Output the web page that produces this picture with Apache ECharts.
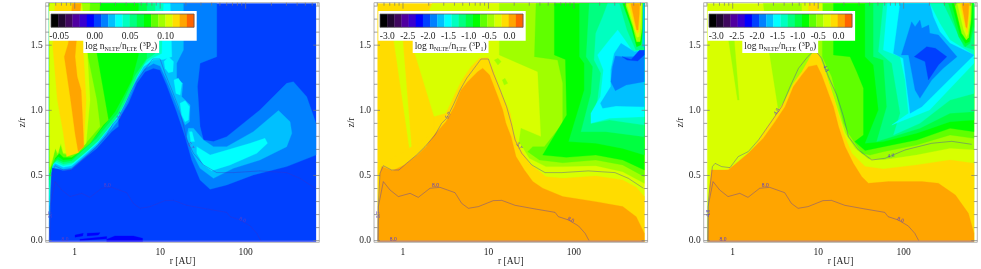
<!DOCTYPE html>
<html><head><meta charset="utf-8">
<script src="https://cdn.jsdelivr.net/npm/echarts@6/dist/echarts.min.js"></script>
<style>html,body{margin:0;padding:0;background:#fff}#c{width:981px;height:269px}</style>
</head><body><div id="c"></div>
<script>
// Colour scale levels of the shared colour bar
const levels=['#000000','#200830','#40085f','#5000a0','#3800d0','#0000ff','#0040ff','#0080ff','#00c0ff','#00ffff','#00ffc0','#00ff80','#00ff40','#00ff00','#60ff00','#a0ff00','#d8ff00','#ffdc00','#ffa500','#ff6400'];
const zb=-0.008, zt=1.82, r0=0.505, r1=665;
const fullRect=[[r0,zb],[r1,zb],[r1,zt],[r0,zt]];

// ---- Panel 1: 3P2 contour bands, [r, z/r]
const p1L7=[[.505,zb],[.538,.568],[.736,.537],[.922,.547],[1.26,.624],[1.81,.708],[2.71,.836],[3.24,.875],[3.24,.926],[4.25,1.054],[5.32,1.207],[6.66,1.297],[8.34,1.322],[9.98,1.309],[11.9,1.194],[15.6,.99],[19.6,.798],[23.4,.619],[29.3,.465],[38.4,.394],[60.1,.427],[123,.504],[302,.568],[665,.657],[665,.9],[518,1.105],[362,1.22],[302,1.207],[147,1.003],[60.1,.798],[42,.76],[32.1,.772],[29.3,.875],[27.3,1.182],[29.3,1.361],[45.9,1.412],[45.9,zt],[.505,zt]];
const p1L8=[[.505,.107],[.529,.56],[.736,.547],[.922,.56],[1.26,.637],[1.81,.726],[2.64,.849],[3.15,.913],[4.16,1.072],[5.18,1.215],[6.52,1.317],[8.34,1.36],[9.98,1.34],[11.9,1.233],[14.3,1.105],[17.1,.977],[19.6,.887],[22,.913],[22.4,1.041],[17.9,1.105],[18.4,1.207],[15.6,1.246],[15.6,1.361],[18.7,1.463],[18.7,zt],[.505,zt]];
const p1Arc8=[[21.4,.862],[24.5,.862],[32.1,.772],[42,.721],[60.1,.721],[123,.836],[242,.998],[331,.913],[347,.824],[302,.721],[147,.619],[71.9,.555],[42,.478],[29.3,.555],[23.4,.683],[20.5,.798]];
const p1L9=[[.505,.21],[.524,.555],[.589,.593],[.736,.563],[.922,.575],[1.26,.65],[1.81,.742],[2.59,.87],[3.1,.931],[4.06,1.084],[5.08,1.225],[6.37,1.335],[8.34,1.386],[10.9,1.391],[13.7,1.412],[13.1,zt],[.505,zt]];
const p1Blob1=[[11.1,1.374],[12.5,1.412],[14.3,1.374],[14.1,1.297],[12.5,1.289],[11.4,1.322]];
const p1Blob2=[[14.5,1.233],[16.3,1.246],[17.9,1.207],[17.1,1.118],[15.3,1.13]];
const p1Blob3=[[17.1,1.054],[19.6,1.074],[22,1.028],[21.4,.926],[19.6,.913],[17.9,.964]];
const p1Arc9=[[26.8,.721],[38.4,.657],[113,.747],[168,.785],[180,.747],[135,.67],[65.7,.581],[40,.537],[32.1,.581],[26.8,.67]];
const p1Blob4=[[22,.836],[23.6,.836],[25.2,.76],[22.8,.76]];
const p1L10=[[.505,.312],[.533,.568],[.589,.604],[.736,.575],[.922,.588],[1.26,.662],[1.81,.755],[2.59,.882],[3.1,.944],[4.06,1.097],[5.08,1.238],[6.37,1.348],[7.97,1.399],[10.4,1.437],[10.9,zt],[.505,zt]];
const p1L11=[[8.72,zt],[8.72,1.437],[6.97,1.391],[5.32,1.258],[4.25,1.11],[3.24,.964],[2.71,.895],[1.89,.767],[1.32,.675],[.965,.601],[.736,.588],[.616,.614],[.543,.578],[.505,.414],[.505,zt]];
const p1L12=[[6.97,zt],[6.97,1.399],[5.08,1.271],[4.06,1.13],[3.15,.977],[2.59,.913],[1.81,.785],[1.26,.696],[.922,.614],[.736,.604],[.627,.624],[.553,.593],[.505,.465],[.505,zt]];
const p1L13=[[5.56,zt],[5.56,1.425],[4.65,1.233],[3.78,1.118],[2.96,.99],[2.48,.926],[1.73,.798],[1.26,.708],[.922,.627],[.736,.619],[.644,.645],[.563,.614],[.515,.517],[.505,zt]];
const p1L14=[[1.98,zt],[1.81,1.437],[2.48,.926],[2.16,.887],[1.51,.747],[1.15,.683],[.922,.639],[.736,.639],[.66,.67],[.589,.632],[.538,.568],[.505,zt]];
const p1L15=[[1.51,zt],[1.4,1.437],[1.81,1.079],[1.98,.875],[1.4,.76],[1.15,.696],[.882,.657],[.736,.665],[.673,.747],[.627,.657],[.589,.721],[.553,.619],[.505,.517],[.505,zt]];
const p1L16=[[1.21,zt],[1.4,1.463],[1.51,1.079],[1.36,.747],[1.1,.683],[.882,.665],[.736,.675],[.69,.747],[.638,.67],[.594,.708],[.553,.632],[.515,.568],[.505,zt]];
const p1L17=[[.589,zt],[1.15,zt],[1.26,1.463],[1.36,1.079],[1.28,.747],[1.1,.675],[.806,.645],[.736,.824],[.627,1.079],[.553,1.501]];
const p1L18=[[.939,zt],[1.19,zt],[1.04,1.514],[1.01,1.412],[1.07,1.258],[1.19,1.156],[1.24,.926],[1.28,.721],[1.1,.683],[1.01,.824],[.897,1.079],[.756,1.412],[.843,1.514]];
const p1Deep=[[2.37,.01],[2.96,.036],[4.86,.036],[6.23,.018],[6.23,zb],[2.37,zb]];
const p1Dash1=[[1.01,.043],[1.26,.056],[1.24,.036],[1.01,.026]];
const p1Dash2=[[1.4,.056],[1.98,.061],[1.89,.043],[1.4,.036]];
const p1Dash3=[[1.15,.01],[2.37,.031],[2.37,.015],[1.15,0]];
const p1Layers=[[6,fullRect],[7,p1L7],[8,p1L8],[8,p1Arc8],[9,p1L9],[9,p1Blob1],[9,p1Blob2],[9,p1Blob3],[9,p1Arc9],[9,p1Blob4],[10,p1L10],[11,p1L11],[12,p1L12],[13,p1L13],[14,p1L14],[15,p1L15],[16,p1L16],[17,p1L17],[18,p1L18],[5,p1Deep],[5,p1Dash1],[5,p1Dash2],[5,p1Dash3]];

// ---- Panel 2: 3P1
const p2L16=[[1.3,1.489],[2.32,.951],[4.86,.312],[r1,.312],[r1,zt],[2.2,zt]];
const p2Wedge=[[.777,1.55],[.99,1.55],[1.26,.708],[1.19,.708]];
const p2L15=[[13.4,zt],[13.4,1.425],[37.7,1.297],[41.2,.798],[24,.862],[22.8,.76],[30.1,.632],[47.1,.568],[73.9,.568],[180,.575],[372,.529],[r1,.44],[r1,zt]];
const p2Dot1=[[11.7,1.386],[12.9,1.399],[14.1,1.374],[12.9,1.348]];
const p2Dot2=[[14.5,1.233],[15.6,1.246],[16.8,1.207],[15.3,1.194]];
const p2L14=[[36,zt],[34.5,1.412],[64.4,1.386],[73.9,1.207],[73.9,.9],[45.1,.721],[33,.721],[28.8,.683],[39.5,.619],[73.9,.598],[180,.619],[372,.581],[r1,.491],[r1,zt]];
const p2L13=[[59,zt],[59,1.425],[79.4,1.391],[82.3,.964],[43.1,.657],[81.5,.639],[180,.657],[372,.619],[r1,.542],[r1,zt]];
const p2L12=[[116,zt],[116,1.412],[132,1.361],[132,1.156],[86.8,.76],[180,.747],[372,.708],[r1,.657],[r1,zt]];
const p2L11=[[151,zt],[139,1.412],[166,1.335],[158,1.13],[121,.836],[237,.836],[r1,.798],[r1,zt]];
const p2L10=[[248,zt],[217,1.719],[180,1.591],[172,1.386],[207,1.284],[189,1.079],[158,.9],[260,.926],[r1,.887],[r1,zt]];
const p2L9=[[325,1.617],[260,1.54],[189,1.425],[221,1.309],[204,1.105],[158,.977],[158,.9],[260,.939],[r1,.951],[r1,1.463],[488,1.45],[408,1.527]];
const p2L8=[[355,1.514],[296,1.437],[270,1.309],[270,1.182],[204,1.054],[217,1.016],[310,1.033],[r1,1.028],[r1,1.463],[509,1.45]];
const p2L7=[[305,1.417],[366,1.412],[509,1.412],[r1,1.501],[r1,1.22],[408,1.194],[305,1.151],[270,1.22],[283,1.335]];
const p2L6=[[366,1.412],[467,1.391],[r1,1.501],[r1,1.425],[557,1.379],[418,1.386]];
const p2Plume11=[[341,zt],[418,1.617],[529,1.463],[r1,1.463],[r1,zt]];
const p2Plume13=[[372,zt],[467,1.642],[541,1.488],[608,1.501],[648,1.617],[r1,zt]];
const p2Plume15=[[396,zt],[488,1.642],[541,1.527],[593,1.527],[626,1.629],[637,zt]];
const p2Plume16=[[411,zt],[509,1.629],[546,1.56],[581,1.565],[608,1.693],[620,zt]];
const p2Plume17=[[437,zt],[518,1.629],[551,1.591],[576,1.604],[597,1.719],[608,zt]];
const p2Plume18=[[463,zt],[541,1.617],[562,1.617],[581,1.744],[587,zt]];
const p2Stripe=[[642,zt],[r1,zt],[r1,1.488],[637,1.488]];
const p2Yellow=[[2.32,.951],[3.18,.977],[4.77,1.22],[6.26,1.335],[7.83,1.399],[9.8,1.407],[11.7,1.289],[14.7,1.11],[18,.977],[19.8,.824],[23.6,.708],[30.1,.593],[47.1,.491],[73.9,.478],[180,.496],[372,.465],[535,.409],[r1,.338],[r1,zb],[.515,zb],[.515,.568],[2.32,.824]];
const p2Orange=[[.515,zb],[.538,.517],[.563,.568],[.756,.537],[1.04,.581],[1.48,.657],[1.86,.721],[2.32,.811],[3.18,.913],[3.98,1.028],[4.77,1.156],[5.72,1.22],[7.48,1.297],[8.57,1.322],[10.3,1.271],[12.9,1.105],[14.7,1.003],[16,.9],[18.4,.798],[21,.645],[26.3,.542],[33,.453],[43.1,.402],[73.9,.338],[180,.299],[372,.261],[535,.184],[r1,.056],[r1,zb]];
const p2Layers=[[17,fullRect],[16,p2L16],[16,p2Wedge],[15,p2L15],[15,p2Dot1],[15,p2Dot2],[14,p2L14],[13,p2L13],[12,p2L12],[11,p2L11],[10,p2L10],[9,p2L9],[8,p2L8],[7,p2L7],[6,p2L6],[11,p2Plume11],[13,p2Plume13],[15,p2Plume15],[16,p2Plume16],[17,p2Plume17],[18,p2Plume18],[8,p2Stripe],[17,p2Yellow],[18,p2Orange]];

// ---- Panel 3: 3P0
const p3Wedge=[[.89,1.55],[1.04,1.55],[1.19,1.079],[1.14,1.079]];
const p3L15=[[2.28,zt],[2.62,1.488],[3.42,1.003],[4.86,.312],[r1,.312],[r1,zt]];
const p3L14=[[11.2,zt],[11.2,1.412],[14.4,1.258],[19.8,.9],[22.6,.824],[32.4,.67],[40.5,.657],[57.9,.683],[142,.734],[349,.811],[r1,.785],[r1,zt]];
const p3L13=[[15.1,zt],[15.1,1.425],[23.6,1.412],[28.3,1.297],[33.9,1.169],[33.9,.811],[26.8,.76],[35.4,.691],[57.9,.721],[142,.772],[349,.862],[r1,.836],[r1,zt]];
const p3L12=[[35.4,zt],[35.4,1.412],[44.3,1.348],[50.7,1.003],[35.4,.747],[57.9,.76],[142,.824],[349,.913],[r1,.926],[r1,zt]];
const p3L11=[[44.3,zt],[44.3,1.412],[57.9,1.386],[63.4,1.028],[48.4,.76],[155,.862],[349,.977],[r1,.99],[r1,zt]];
const p3L10=[[57.9,zt],[50.7,1.45],[72.6,1.361],[91,.977],[76,.811],[155,.9],[349,1.079],[r1,1.13],[r1,1.463],[504,1.488],[290,zt]];
const p3L9=[[64.6,zt],[57.9,1.463],[91,1.412],[104,1.233],[114,.977],[72.6,.887],[201,1.003],[r1,1.361],[r1,1.425],[349,1.54],[265,1.667],[202,zt]];
const p3L8=[[91,zt],[76,1.437],[98.6,1.399],[114,1.079],[119,.977],[163,1.028],[421,1.297],[r1,1.425],[349,1.514],[265,1.604],[222,1.719],[202,zt]];
const p3L7=[[124,1.68],[136,1.642],[155,1.693],[163,1.629],[197,1.655],[202,1.591],[255,1.578],[421,1.412],[290,1.322],[213,1.233],[155,1.092],[136,1.156],[114,1.425],[94,1.425]];
const p3L6=[[133,1.412],[186,1.488],[235,1.476],[320,1.412],[255,1.348],[195,1.233],[178,1.374]];
const p3Plume12=[[334,zt],[441,1.565],[524,1.488],[597,1.514],[r1,1.642],[r1,zt]];
const p3Plume13=[[366,zt],[457,1.578],[529,1.514],[587,1.527],[642,1.667],[642,zt]];
const p3Plume15=[[393,zt],[478,1.591],[541,1.54],[576,1.56],[614,1.693],[626,zt]];
const p3Plume16=[[425,zt],[504,1.617],[546,1.565],[567,1.591],[597,1.719],[608,zt]];
const p3Plume17=[[453,zt],[524,1.642],[551,1.591],[562,1.617],[587,1.744],[597,zt]];
const p3Plume18=[[478,zt],[535,1.642],[551,1.629],[572,1.744],[581,zt]];
const p3Lime=[[10.1,1.412],[12.6,1.258],[16.5,1.028],[20.7,.824],[27,.708],[38.7,.624],[57.9,.619],[142,.657],[349,.708],[r1,.696],[r1,zb],[4.86,zb],[4.86,.824]];
const p3TopLime=[[6.45,zt],[11.2,zt],[11.2,1.74],[6.45,1.74]];
const p3TopYellow=[[7.7,zt],[10.1,zt],[10.1,1.74],[7.7,1.74]];
const p3Yellow=[[.543,.542],[.777,.529],[1.52,.645],[2.62,.887],[4.1,1.079],[5.13,1.207],[6.45,1.297],[7.7,1.386],[8.43,1.437],[10.1,1.437],[12.1,1.297],[15.1,1.105],[18,.926],[19.8,.824],[24.7,.67],[35.4,.568],[57.9,.55],[142,.581],[349,.619],[r1,.593],[r1,zb],[.515,zb]];
const p3Orange=[[.515,zb],[.538,.414],[.568,.542],[.89,.542],[1.16,.606],[1.52,.67],[2.28,.785],[3.13,.913],[4.1,1.028],[5.13,1.182],[6.45,1.271],[7.7,1.335],[9.63,1.348],[11,1.271],[13.2,1.13],[15.1,1.028],[17.3,.875],[20.7,.721],[25.8,.593],[32.4,.491],[38.7,.44],[66.3,.453],[163,.453],[255,.44],[403,.35],[572,.21],[r1,.056],[r1,zb]];
const p3Layers=[[16,fullRect],[15,p3Wedge],[15,p3L15],[14,p3L14],[13,p3L13],[12,p3L12],[11,p3L11],[10,p3L10],[9,p3L9],[8,p3L8],[7,p3L7],[6,p3L6],[12,p3Plume12],[13,p3Plume13],[15,p3Plume15],[16,p3Plume16],[17,p3Plume17],[18,p3Plume18],[16,p3Lime],[16,p3TopLime],[17,p3TopYellow],[17,p3Yellow],[18,p3Orange]];

// ---- Contour lines
const contour57=[[.505,0],[.515,.286],[.538,.517],[.589,.575],[.736,.542],[.897,.542],[1.1,.593],[1.44,.657],[1.81,.721],[2.37,.811],[2.83,.9],[3.24,.939],[3.88,1.041],[4.65,1.156],[5.56,1.246],[6.66,1.315],[8.19,1.394],[9.98,1.394],[11.4,1.284],[13.7,1.156],[16.3,1.028],[18.7,.887],[20.5,.772],[24.5,.67],[32.1,.581],[45.9,.522],[71.9,.522],[147,.535],[302,.522],[433,.478],[650,.402]];
const contour80=[[.515,0],[.515,.261],[.589,.453],[.704,.389],[.882,.338],[1.21,.363],[1.51,.332],[2.07,.402],[2.71,.409],[4.06,.368],[4.86,.286],[5.82,.248],[7.62,.261],[11.4,.307],[14.3,.309],[20.5,.271],[35.1,.243],[60.1,.217],[65.7,.184],[86,.159],[113,.113],[135,.056],[150,0]];
const contour48=[[.51,0],[.52,.312],[.579,.568],[.622,.593],[.743,.568],[.93,.56],[1.16,.645],[1.52,.683],[2,.772],[2.74,.9],[3.74,1.028],[4.7,1.182],[5.88,1.322],[7.55,1.412],[9.12,1.463],[11,1.399],[13.2,1.258],[16.5,1.118],[19.8,.951],[22.6,.798],[29.6,.696],[42.4,.619],[60.7,.632],[104,.696],[213,.747],[366,.762],[625,.739]];
const contourBase=[[.505,-.004],[r1,-.004]];
const labels12=[[.52,.2,'5.7',90],[3.39,.96,'5.7',60],[22.8,.726,'5.7',-55],[2.4,.42,'8.0',0],[92,.16,'8.0',-25],[.77,.005,'8.0',0]];
const labels3=[[.52,.21,'4.8',90],[3.27,.99,'4.8',55],[12.3,1.32,'4.8',-65],[71,.65,'4.8',12],[2.4,.42,'8.0',0],[92,.16,'8.0',-25],[.77,.005,'8.0',0]];

// ---- Axis ticks and labels
const xMajor=[1,10,100];
const xMinor=[.5,.6,.7,.8,.9,2,3,4,5,6,7,8,9,20,30,40,50,60,70,80,90,200,300,400,500,600,700];
const yMajor=[0,.5,1,1.5];
const yMinor=[.1,.2,.3,.4,.6,.7,.8,.9,1.1,1.2,1.3,1.4,1.6,1.7,1.8];
const cbTicks1=[-.05,0,.05,.10];
const cbTicks2=[-3,-2.5,-2,-1.5,-1,-.5,0];
const cbRange1=[-.0616,.140];
const cbRange2=[-3.18,.33];

const FF='Liberation Serif', INK='#222';
const xMin=.458,xMax=727,yMin=-.0128,yMax=1.826;
const panels=[
 {left:45.7,layers:p1Layers,lines:[contour57,contour80],labels:labels12,cbLeft:51,boxLeft:49.3,titleLeft:83.3,cb:cbRange1,cbT:cbTicks1,fmt:v=>v.toFixed(2),sub:'2'},
 {left:374,layers:p2Layers,lines:[contour57,contour80],labels:labels12,cbLeft:380,boxLeft:378.3,titleLeft:412.7,cb:cbRange2,cbT:cbTicks2,fmt:v=>v.toFixed(1),sub:'1'},
 {left:703.7,layers:p3Layers,lines:[contour48,contour80],labels:labels3,cbLeft:709,boxLeft:707.7,titleLeft:742.3,cb:cbRange2,cbT:cbTicks2,fmt:v=>v.toFixed(1),sub:'0'}
];
const W=273.6,H=239.6,TOP=2.7;
const grid=[],xAxis=[],yAxis=[],series=[],title=[],graphic=[];
panels.forEach((p,i)=>{
  grid.push({left:p.left,top:TOP,width:W,height:H,show:true,borderColor:'#b4b4b4',borderWidth:1,backgroundColor:'#fff',outerBoundsMode:'none'});
  xAxis.push({gridIndex:i,type:'log',min:xMin,max:xMax,logBase:10,axisLine:{show:false},axisTick:{show:false},splitLine:{show:false},minorTick:{show:false},
    axisLabel:{customValues:xMajor,fontFamily:FF,fontSize:9.5,color:INK,margin:5,formatter:v=>String(Math.round(v))},
    name:'r [AU]',nameLocation:'middle',nameGap:14,nameMoveOverlap:false,nameTextStyle:{fontFamily:FF,fontSize:9.5,color:INK}});
  yAxis.push({gridIndex:i,type:'value',min:yMin,max:yMax,axisLine:{show:false},axisTick:{show:false},splitLine:{show:false},
    axisLabel:{customValues:yMajor,fontFamily:FF,fontSize:9.5,color:INK,margin:3,formatter:v=>v.toFixed(1)},
    name:'z/r',nameLocation:'middle',nameGap:18,nameRotate:90,nameMoveOverlap:false,nameTextStyle:{fontFamily:FF,fontSize:9.5,color:INK}});
  // filled bands
  series.push({type:'custom',xAxisIndex:i,yAxisIndex:i,z:2,silent:true,animation:false,clip:true,
    data:p.layers.map((l,k)=>[1,1,k]),
    renderItem:(params,api)=>{const k=api.value(2);const L=p.layers[k];
      return {type:'polygon',z2:k,shape:{points:L[1].map(q=>api.coord(q))},style:{fill:levels[L[0]],stroke:levels[L[0]],lineWidth:.3}};}});
  // contour lines
  p.lines.forEach(d=>series.push({type:'line',xAxisIndex:i,yAxisIndex:i,z:3,data:d,showSymbol:false,silent:true,animation:false,smooth:false,
    lineStyle:{color:'#3a30c8',opacity:.55,width:.7}}));
  series.push({type:'line',xAxisIndex:i,yAxisIndex:i,z:3,data:contourBase,showSymbol:false,silent:true,animation:false,lineStyle:{color:'#8878e8',width:.8}});
  // contour labels
  series.push({type:'custom',xAxisIndex:i,yAxisIndex:i,z:4,silent:true,animation:false,clip:false,
    data:p.labels.map((l,k)=>[l[0],l[1],k]),
    renderItem:(params,api)=>{const l=p.labels[api.value(2)];const c=api.coord([l[0],l[1]]);
      return {type:'text',x:c[0],y:c[1],rotation:l[3]*Math.PI/180,style:{text:l[2],fontFamily:FF,fontSize:5.5,fill:'#5a40c8',align:'center',verticalAlign:'middle'}};}});
  // tick marks
  const tickList=[];
  xMajor.forEach(v=>tickList.push(['x',v,6]));xMinor.forEach(v=>tickList.push(['x',v,3]));
  yMajor.forEach(v=>tickList.push(['y',v,6]));yMinor.forEach(v=>tickList.push(['y',v,3.5]));
  series.push({type:'custom',xAxisIndex:i,yAxisIndex:i,z:4,silent:true,animation:false,clip:false,
    data:tickList.map((t,k)=>[1,1,k]),
    renderItem:(params,api)=>{const t=tickList[api.value(2)];
      const st={stroke:'#777',lineWidth:.7,fill:null};
      if(t[0]==='x'){const a=api.coord([t[1],yMax]);
        return {type:'line',shape:{x1:a[0],y1:a[1],x2:a[0],y2:a[1]+t[2]},style:st};}
      const a=api.coord([xMin,t[1]]),b=api.coord([xMax,t[1]]);
      return {type:'group',children:[
        {type:'line',shape:{x1:a[0],y1:a[1],x2:a[0]+t[2],y2:a[1]},style:st},
        {type:'line',shape:{x1:b[0],y1:b[1],x2:b[0]-t[2],y2:b[1]},style:st}]};}});
  // white box behind the colour bar
  graphic.push({type:'rect',z:5,shape:{x:p.boxLeft,y:11,width:147.4,height:29.7},style:{fill:'#fff'},silent:true});
  const tw={fontFamily:FF,color:INK,fontWeight:'normal'};
  title.push({text:'{a|log n}{s|NLTE}{a|/n}{s|LTE}{a| (}{u|3}{a|P}{s|'+p.sub+'}{a|)}',left:p.titleLeft,top:40,padding:[1,2,1,2],backgroundColor:'#fff',z:6,
    textStyle:{fontWeight:'normal',rich:{a:{...tw,fontSize:9.5,lineHeight:11},
      s:{...tw,fontSize:6,verticalAlign:'bottom',lineHeight:11,padding:[3,0,0,0]},
      u:{...tw,fontSize:6,verticalAlign:'top',lineHeight:11}}}});
});
// colour bars
panels.forEach((p,i)=>{
  const g=3+i;
  grid.push({left:p.cbLeft,top:14,width:143,height:13.3,show:false,outerBoundsMode:'none'});
  xAxis.push({gridIndex:g,type:'value',min:p.cb[0],max:p.cb[1],z:7,axisLine:{show:false},axisTick:{show:false},splitLine:{show:false},
    axisLabel:{customValues:p.cbT,fontFamily:FF,fontSize:9.5,color:INK,margin:4,formatter:p.fmt}});
  yAxis.push({gridIndex:g,type:'value',min:0,max:1,show:false});
  const step=(p.cb[1]-p.cb[0])/levels.length;
  series.push({type:'custom',xAxisIndex:g,yAxisIndex:g,z:6,silent:true,animation:false,
    data:levels.map((c,k)=>[p.cb[0]+k*step,0,k]),
    renderItem:(params,api)=>{const k=api.value(2);const a=api.coord([api.value(0),0]),b=api.coord([api.value(0)+step,1]);
      return {type:'rect',shape:{x:a[0],y:b[1],width:b[0]-a[0]+.3,height:a[1]-b[1]},style:{fill:levels[k]}};}});
  series.push({type:'custom',xAxisIndex:g,yAxisIndex:g,z:6,silent:true,animation:false,data:[[p.cb[0],0]],
    renderItem:(params,api)=>{const a=api.coord([p.cb[0],0]),b=api.coord([p.cb[1],1]);
      return {type:'rect',shape:{x:a[0],y:b[1],width:b[0]-a[0],height:a[1]-b[1]},style:{fill:'none',stroke:'#555',lineWidth:.7}};}});
});
const chart=echarts.init(document.getElementById('c'),null,{renderer:'canvas'});
chart.setOption({animation:false,backgroundColor:'#fff',grid,xAxis,yAxis,series,title,graphic:{elements:graphic}});
</script></body></html>
